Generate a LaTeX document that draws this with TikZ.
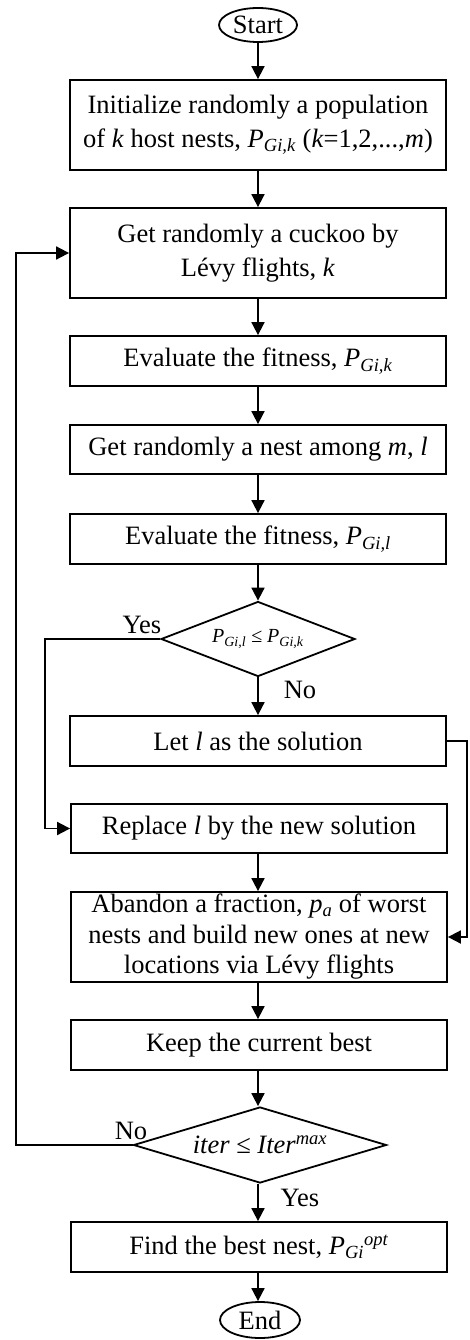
\documentclass[tikz,border=0pt]{standalone}
\usepackage{fontspec}
\setmainfont{Liberation Serif}
\usetikzlibrary{shapes.geometric,arrows.meta}
\newcommand{\iv}[1]{\textit{#1}}
\begin{document}
\begin{tikzpicture}[x=1pt,y=-1pt,
  every node/.style={font=\fontsize{26.5}{34}\selectfont},
  box/.style={draw,line width=1.8pt,minimum width=376pt,inner sep=0pt,align=center},
  term/.style={draw,ellipse,line width=1.8pt,inner sep=0pt},
  dec/.style={draw,diamond,line width=1.8pt,inner sep=0pt},
  arr/.style={line width=1.8pt,-{Triangle[length=13pt,width=13pt]}}]
\useasboundingbox (0,0) rectangle (469,1340);
\node[term,minimum width=78pt,minimum height=34pt] (start) at (258,25) {Start};
\node[box,minimum height=90pt] (b1) at (258,125) {Initialize randomly a population\\of \iv{k} host nests, \iv{P}\textsubscript{\iv{Gi,k}} (\iv{k}=1,2,...,\iv{m})};
\node[box,minimum height=90pt] (b2) at (258,253) {Get randomly a cuckoo by\\Lévy flights, \iv{k}};
\node[box,minimum height=50pt] (b3) at (258,361) {Evaluate the fitness, \iv{P}\textsubscript{\iv{Gi,k}}};
\node[box,minimum height=49pt] (b4) at (258,449.5) {Get randomly a nest among \iv{m}, \iv{l}};
\node[box,minimum height=50pt] (b5) at (258,539) {Evaluate the fitness, \iv{P}\textsubscript{\iv{Gi,l}}};
\node[dec,shape aspect=2.6,minimum width=194pt,minimum height=75pt,font=\fontsize{20}{24}\selectfont] (d1) at (258,639) {\iv{P}\textsubscript{\iv{Gi,l}} ≤ \iv{P}\textsubscript{\iv{Gi,k}}};
\node[box,minimum height=50pt] (b6) at (258,741) {Let \iv{l} as the solution};
\node[box,minimum height=49pt] (b7) at (259,828.5) {Replace \iv{l} by the new solution};
\node[box,minimum height=90pt,font=\fontsize{26.5}{30.5}\selectfont] (b8) at (259,937) {Abandon a fraction, \iv{p}\textsubscript{\iv{a}} of worst\\nests and build new ones at new\\locations via Lévy flights};
\node[box,minimum height=50pt] (b9) at (259,1045) {Keep the current best};
\node[dec,shape aspect=3.3,minimum width=253pt,minimum height=76pt] (d2) at (260,1145) {\iv{iter} ≤ \iv{Iter}\textsuperscript{\iv{max}}};
\node[box,minimum height=50pt] (b10) at (259,1247) {Find the best nest, \iv{P}\textsubscript{\iv{Gi}}\textsuperscript{\iv{opt}}};
\node[term,minimum width=80pt,minimum height=36pt] (end) at (260,1320) {End};
\coordinate (Lx) at (16,0);
\coordinate (Yx) at (45,0);
\coordinate (Rx) at (467,0);
\coordinate (Cx) at (258,0);
\draw[arr] (start) -- (b1);
\draw[arr] (b1) -- (b2);
\draw[arr] (b2) -- (b3);
\draw[arr] (b3) -- (b4);
\draw[arr] (b4) -- (b5);
\draw[arr] (b5.south) -- (d1.north);
\draw[arr] (d1.south) -- (b6.north -| d1.south);
\draw[arr] (b7.south -| Cx) -- (b8.north -| Cx);
\draw[arr] (b8.south -| Cx) -- (b9.north -| Cx);
\draw[arr] (b9.south -| Cx) -- (d2.north -| Cx);
\draw[arr] (d2.south -| Cx) -- (b10.north -| Cx);
\draw[arr] (b10.south -| Cx) -- (end.north -| Cx);
\draw[arr] (d1.west) -- (d1.west -| Yx) |- (b7.west);
\draw[arr] (b6.east) -- (b6.east -| Rx) |- (b8.east);
\draw[arr] (d2.west) -- (d2.west -| Lx) |- (b2.west);
\node (yes1) at (142,625) {Yes};
\node (no1) at (300,690) {No};
\node (no2) at (131,1131) {No};
\node (yes2) at (300,1198) {Yes};
\end{tikzpicture}
\end{document}
